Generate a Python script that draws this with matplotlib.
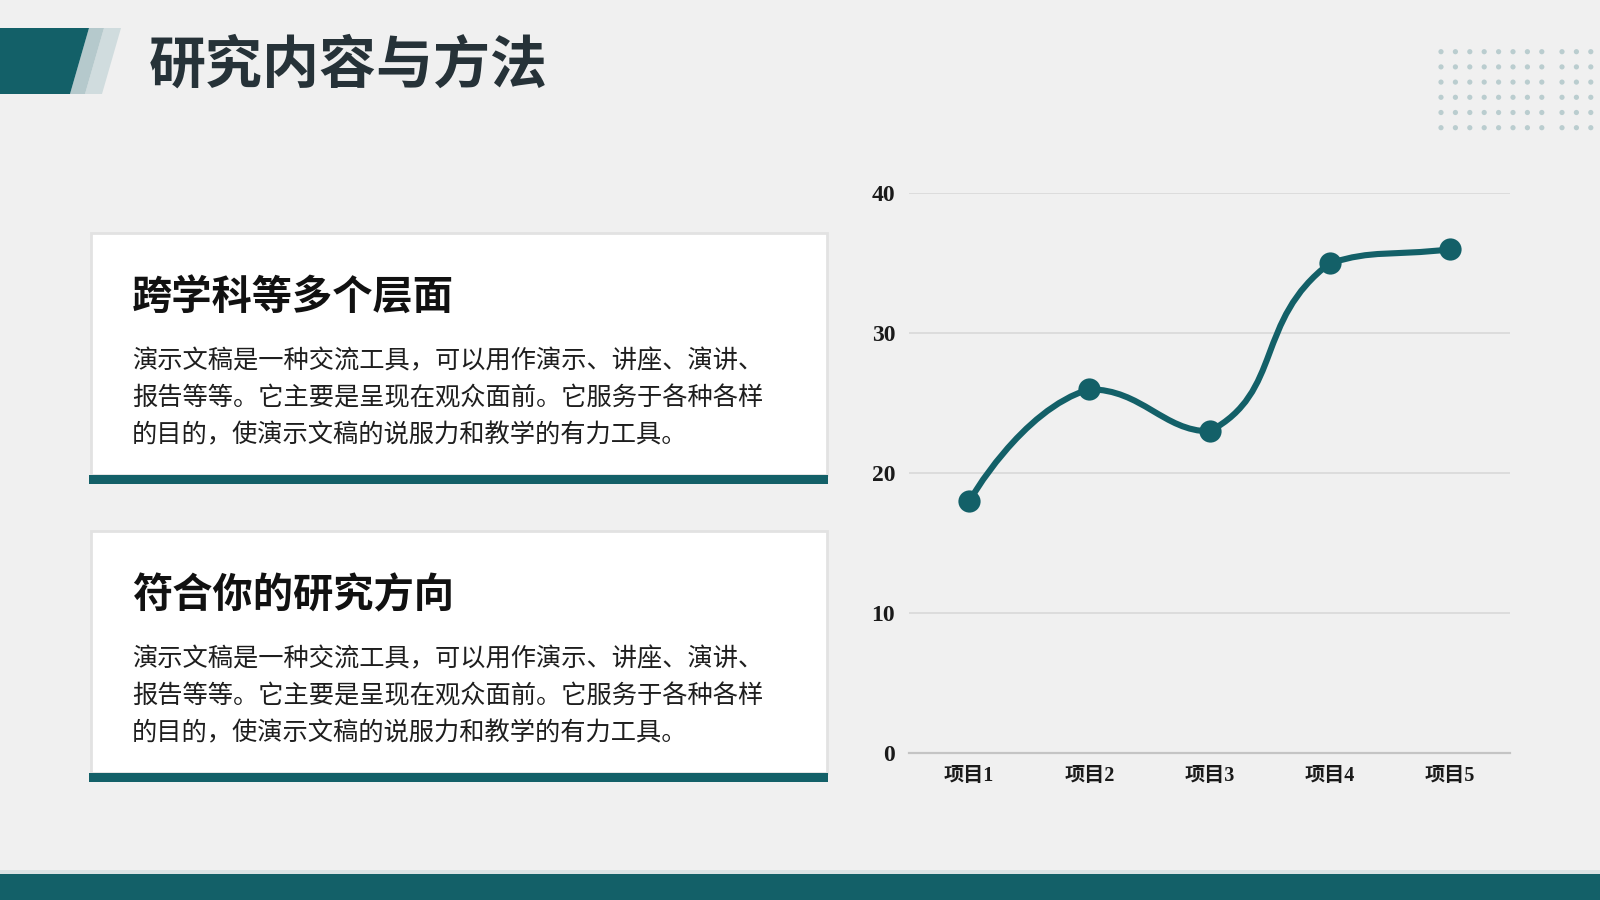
"""
研究内容与方法 slide: two text cards on the left, smoothed line chart on the right.
Saves out.png (1600x900).
"""
import numpy as np
import matplotlib
matplotlib.use("Agg")
import matplotlib.pyplot as plt
from matplotlib.patches import Polygon, Rectangle, Circle
from matplotlib.path import Path
from matplotlib.patches import PathPatch

plt.rcParams["font.family"] = ["Noto Sans CJK SC", "DejaVu Sans"]

# ── data ───────────────────────────────────────────────────────────────────────
title = "研究内容与方法"
card_titles = ["跨学科等多个层面", "符合你的研究方向"]
card_body = [
    "演示文稿是一种交流工具，可以用作演示、讲座、演讲、",
    "报告等等。它主要是呈现在观众面前。它服务于各种各样",
    "的目的，使演示文稿的说服力和教学的有力工具。",
]
categories = ["项目1", "项目2", "项目3", "项目4", "项目5"]
values = [18, 26, 23, 35, 36]
y_ticks = [0, 10, 20, 30, 40]

TEAL = "#136068"
BG = "#f0f0f0"

fig = plt.figure(figsize=(16, 9), dpi=100)
fig.patch.set_facecolor(BG)

# background layer in pixel coordinates (y down)
bg = fig.add_axes([0, 0, 1, 1])
bg.set_xlim(0, 1600)
bg.set_ylim(900, 0)
bg.axis("off")

# ── header band ────────────────────────────────────────────────────────────────
bg.add_patch(Polygon([(104, 28), (121, 28), (102, 94), (85, 94)], closed=True,
                     facecolor="#d0dcde", edgecolor="none"))
bg.add_patch(Polygon([(89, 28), (104, 28), (85, 94), (70, 94)], closed=True,
                     facecolor="#b5c9cc", edgecolor="none"))
bg.add_patch(Polygon([(0, 28), (89, 28), (70, 94), (0, 94)], closed=True,
                     facecolor=TEAL, edgecolor="none"))
bg.text(149, 66, title, fontsize=41, fontweight="bold", color="#263238",
        ha="left", va="center")

# dot grid, top right
for gx0, ncol in [(1441, 8), (1562, 3)]:
    for c in range(ncol):
        for r in range(6):
            bg.add_patch(Circle((gx0 + c * 14.4, 51.7 + r * 15.2), 2.6,
                                facecolor="#bacdcf", edgecolor="none"))

# bottom band
bg.add_patch(Rectangle((0, 870), 1600, 4, facecolor="#dbe2e4", edgecolor="none"))
bg.add_patch(Rectangle((0, 874), 1600, 26, facecolor=TEAL, edgecolor="none"))

# ── cards ──────────────────────────────────────────────────────────────────────
for i, head in enumerate(card_titles):
    dy = i * 298
    bg.add_patch(Rectangle((91, 233 + dy), 736, 242, facecolor="white",
                           edgecolor="#e2e2e2", linewidth=2))
    bg.add_patch(Rectangle((89, 475 + dy), 739, 9, facecolor=TEAL, edgecolor="none"))
    bg.text(132, 298 + dy, head, fontsize=29, fontweight="bold", color="#111111",
            ha="left", va="center")
    for j, line in enumerate(card_body):
        bg.text(132, 361 + dy + j * 37, line, fontsize=18.2, color="#1e1e1e",
                ha="left", va="center")

# ── line chart ─────────────────────────────────────────────────────────────────
ax = fig.add_axes([909 / 1600, (900 - 753.3) / 900, 601 / 1600, 560 / 900])
ax.patch.set_alpha(0)
x = np.arange(len(categories))
ax.set_xlim(-0.5, len(categories) - 0.5)
ax.set_ylim(0, 40)
ax.set_yticks(y_ticks)
ax.set_xticks(x)
ax.set_xticklabels(categories)
for s in ["top", "right", "left"]:
    ax.spines[s].set_visible(False)
ax.spines["bottom"].set_color("#c4c4c4")
ax.spines["bottom"].set_linewidth(1.6)
ax.grid(axis="y", color="#d6d6d6", linewidth=1.1)
ax.set_axisbelow(True)
ax.tick_params(axis="both", length=0)
ax.tick_params(axis="y", pad=10)
ax.tick_params(axis="x", pad=9)
for lab in ax.get_yticklabels():
    lab.set_family(["Liberation Serif", "Noto Sans CJK SC"])
    lab.set_fontweight("bold")
    lab.set_fontsize(17)
    lab.set_color("#1a1a1a")
for lab in ax.get_xticklabels():
    lab.set_family(["Liberation Serif", "Noto Sans CJK SC"])
    lab.set_fontweight("bold")
    lab.set_fontsize(14.5)
    lab.set_color("#1a1a1a")

# smoothed curve: bezier control points (smooth 0.5), clamped to each segment box
pts = ax.transData.transform(np.column_stack([x, values]))
smooth = 0.5
verts = [tuple(pts[0])]
codes = [Path.MOVETO]
cp0 = pts[0]
n = len(pts)
for i in range(1, n):
    p = pts[i]
    prev = pts[i - 1]
    nxt = pts[i + 1] if i + 1 < n else p
    v = nxt - prev
    d0 = np.hypot(*(p - prev))
    d1 = np.hypot(*(nxt - p))
    ratio = d1 / (d0 + d1)
    cp1 = p - v * smooth * (1 - ratio)
    cp1 = np.clip(cp1, np.minimum(prev, p), np.maximum(prev, p))
    verts += [tuple(cp0), tuple(cp1), tuple(p)]
    codes += [Path.CURVE4] * 3
    cp0 = p + v * smooth * ratio
    cp0 = np.clip(cp0, np.minimum(nxt, p), np.maximum(nxt, p))
data_verts = ax.transData.inverted().transform(np.array(verts))
ax.add_patch(PathPatch(Path(data_verts, codes), facecolor="none", edgecolor=TEAL,
                       linewidth=4.4, capstyle="round", joinstyle="round"))
ax.plot(x, values, linestyle="none", marker="o", markersize=16,
        color=TEAL, markeredgewidth=0)

fig.savefig("out.png", dpi=100, facecolor=BG)
print("Saved out.png")
